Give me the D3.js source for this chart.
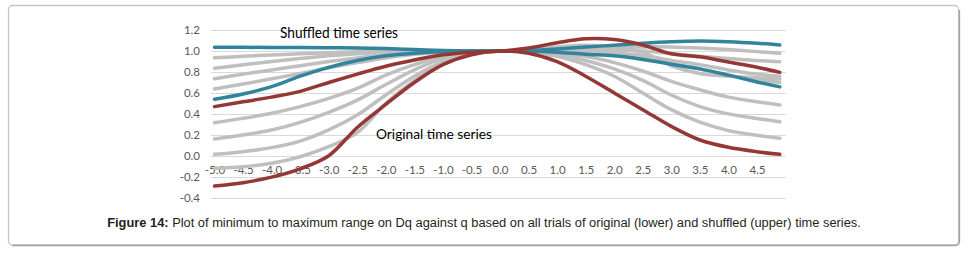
<!DOCTYPE html>
<html lang="en">

<head>
    <meta charset="utf-8">
    <script src='https://d3js.org/d3.v7.min.js'></script>
    <style>
        body { margin: 0; background: #fff; }
        .tick text { fill: #595959; font-family: Lato, 'Open Sans', sans-serif; font-size: 11.5px; }
    </style>
</head>

<body>

    <script>

        // q values (every 0.5, plus the last category 4.9)
        const qValues = [-5, -4.5, -4, -3.5, -3, -2.5, -2, -1.5, -1, -0.5, 0, 0.5, 1, 1.5, 2, 2.5, 3, 3.5, 4, 4.5, 4.9];
        const xTicks = [-5, -4.5, -4, -3.5, -3, -2.5, -2, -1.5, -1, -0.5, 0, 0.5, 1, 1.5, 2, 2.5, 3, 3.5, 4, 4.5];
        const yTicks = [-0.4, -0.2, 0, 0.2, 0.4, 0.6, 0.8, 1.0, 1.2];

        // shuffled time series: max / min and trials
        const shuffledMax = [1.036, 1.036, 1.035, 1.034, 1.032, 1.03, 1.025, 1.015, 1.005, 1.0, 1.0, 1.005, 1.02, 1.04, 1.055, 1.075, 1.09, 1.097, 1.09, 1.075, 1.058];
        const shuffledMin = [0.539, 0.59, 0.66, 0.76, 0.845, 0.91, 0.955, 0.98, 0.995, 1.0, 1.0, 1.0, 0.99, 0.97, 0.955, 0.92, 0.875, 0.83, 0.77, 0.705, 0.658];
        const shuffled1 = [0.937, 0.95, 0.963, 0.975, 0.985, 0.993, 0.998, 1.0, 1.0, 1.0, 1.0, 1.005, 1.015, 1.025, 1.035, 1.04, 1.04, 1.03, 1.015, 0.995, 0.979];
        const shuffled2 = [0.835, 0.87, 0.9, 0.93, 0.955, 0.975, 0.988, 0.996, 1.0, 1.0, 1.0, 1.003, 1.005, 1.01, 1.01, 1.0, 0.975, 0.95, 0.93, 0.91, 0.899];
        const shuffled3 = [0.736, 0.78, 0.82, 0.86, 0.9, 0.935, 0.965, 0.985, 0.997, 1.0, 1.0, 1.0, 0.995, 0.99, 0.98, 0.96, 0.91, 0.87, 0.82, 0.78, 0.76];
        const shuffled4 = [0.638, 0.685, 0.735, 0.785, 0.84, 0.89, 0.935, 0.97, 0.99, 1.0, 1.0, 1.0, 0.99, 0.98, 0.965, 0.94, 0.88, 0.83, 0.77, 0.73, 0.70];

        // original time series: max / min and trials
        const originalMax = [0.469, 0.515, 0.56, 0.615, 0.70, 0.78, 0.855, 0.915, 0.965, 0.99, 1.0, 1.03, 1.08, 1.118, 1.11, 1.058, 0.975, 0.945, 0.895, 0.845, 0.797];
        const originalMin = [-0.29, -0.258, -0.205, -0.125, 0.0, 0.27, 0.49, 0.70, 0.87, 0.965, 1.0, 0.98, 0.9, 0.76, 0.6, 0.44, 0.28, 0.15, 0.08, 0.038, 0.013];
        const original1 = [0.316, 0.357, 0.405, 0.469, 0.548, 0.644, 0.77, 0.87, 0.95, 0.99, 1.0, 1.015, 1.04, 1.055, 1.04, 0.99, 0.86, 0.785, 0.76, 0.745, 0.733];
        const original2 = [0.16, 0.198, 0.246, 0.319, 0.415, 0.532, 0.68, 0.82, 0.93, 0.985, 1.0, 1.0, 0.985, 0.95, 0.89, 0.81, 0.71, 0.63, 0.56, 0.515, 0.485];
        const original3 = [0.013, 0.038, 0.077, 0.14, 0.246, 0.389, 0.58, 0.76, 0.9, 0.975, 1.0, 0.995, 0.97, 0.91, 0.83, 0.72, 0.58, 0.47, 0.40, 0.355, 0.325];
        const original4 = [-0.121, -0.105, -0.073, -0.01, 0.086, 0.22, 0.5, 0.72, 0.885, 0.97, 1.0, 0.99, 0.95, 0.87, 0.76, 0.6, 0.44, 0.32, 0.24, 0.195, 0.166];

        const grey = "#bfbfbf";
        const teal = "#31849b";
        const red = "#953735";

        const series = [
            { values: shuffled1, color: grey },
            { values: shuffled2, color: grey },
            { values: shuffled3, color: grey },
            { values: shuffled4, color: grey },
            { values: original1, color: grey },
            { values: original2, color: grey },
            { values: original3, color: grey },
            { values: original4, color: grey },
            { values: shuffledMax, color: teal },
            { values: shuffledMin, color: teal },
            { values: originalMax, color: red },
            { values: originalMin, color: red }
        ];

        const width = 969;
        const height = 254;

        const x = d3.scaleLinear()
            .domain([-5, 4.9])
            .range([214.5, 779.8]);

        const y = d3.scaleLinear()
            .domain([0, 1])
            .range([155.7, 51.1]);

        const svg = d3.select("body")
            .append("svg")
            .attr("width", width)
            .attr("height", height);

        // frame round the figure
        svg.append("rect")
            .attr("x", 8.5)
            .attr("y", 5.5)
            .attr("width", 950)
            .attr("height", 239.5)
            .attr("rx", 4)
            .attr("fill", "none")
            .attr("stroke", "#c6c6c6")
            .attr("stroke-width", 1.3);
        svg.append("path")
            .attr("d", "M959.5,10 V241 Q959.5,245.5 955,245.5 H12")
            .attr("fill", "none")
            .attr("stroke", "#a0a0a0")
            .attr("stroke-width", 1.3);

        // gridlines
        svg.append("g")
            .selectAll("line")
            .data(yTicks)
            .enter()
            .append("line")
            .attr("x1", x(-5.06))
            .attr("x2", x(5.0))
            .attr("y1", d => Math.round(y(d)) + 0.5)
            .attr("y2", d => Math.round(y(d)) + 0.5)
            .attr("stroke", "#d9d9d9")
            .attr("stroke-width", 1);

        // y axis labels
        const yAxis = d3.axisLeft(y)
            .tickValues(yTicks)
            .tickSize(0)
            .tickPadding(0)
            .tickFormat(d => d.toFixed(1));
        svg.append("g")
            .attr("transform", "translate(200,0)")
            .call(yAxis)
            .call(g => g.select(".domain").remove());

        // x axis labels, sitting on the 0.0 line
        const xAxis = d3.axisBottom(x)
            .tickValues(xTicks)
            .tickSize(0)
            .tickPadding(10)
            .tickFormat(d => d.toFixed(1));
        svg.append("g")
            .attr("transform", "translate(0," + y(0) + ")")
            .call(xAxis)
            .call(g => g.select(".domain").remove());

        // lines
        const line = d3.line()
            .x((d, i) => x(qValues[i]))
            .y(d => y(d))
            .curve(d3.curveCatmullRom.alpha(0.5));

        svg.append("g")
            .selectAll("path")
            .data(series)
            .enter()
            .append("path")
            .attr("d", d => line(d.values))
            .attr("fill", "none")
            .attr("stroke", d => d.color)
            .attr("stroke-width", 3.5)
            .attr("stroke-linecap", "round")
            .attr("stroke-linejoin", "round");

        // annotations
        svg.append("text")
            .attr("x", 280)
            .attr("y", 38)
            .attr("textLength", 118)
            .attr("lengthAdjust", "spacingAndGlyphs")
            .style("font-family", "Lato, 'Open Sans', sans-serif")
            .style("font-size", "14.5px")
            .attr("fill", "#000")
            .text("Shuffled time series");

        svg.append("text")
            .attr("x", 376)
            .attr("y", 138.5)
            .attr("textLength", 116)
            .attr("lengthAdjust", "spacingAndGlyphs")
            .style("font-family", "Lato, 'Open Sans', sans-serif")
            .style("font-size", "14px")
            .attr("fill", "#000")
            .text("Original time series");

        // caption
        const caption = svg.append("text")
            .attr("x", 484)
            .attr("y", 227)
            .attr("text-anchor", "middle")
            .style("font-family", "'Liberation Sans', Arial, sans-serif")
            .style("font-size", "12.85px")
            .attr("fill", "#231f20");
        caption.append("tspan")
            .style("font-weight", "bold")
            .text("Figure 14:");
        caption.append("tspan")
            .text(" Plot of minimum to maximum range on Dq against q based on all trials of original (lower) and shuffled (upper) time series.");

    </script>

</body>

</html>
